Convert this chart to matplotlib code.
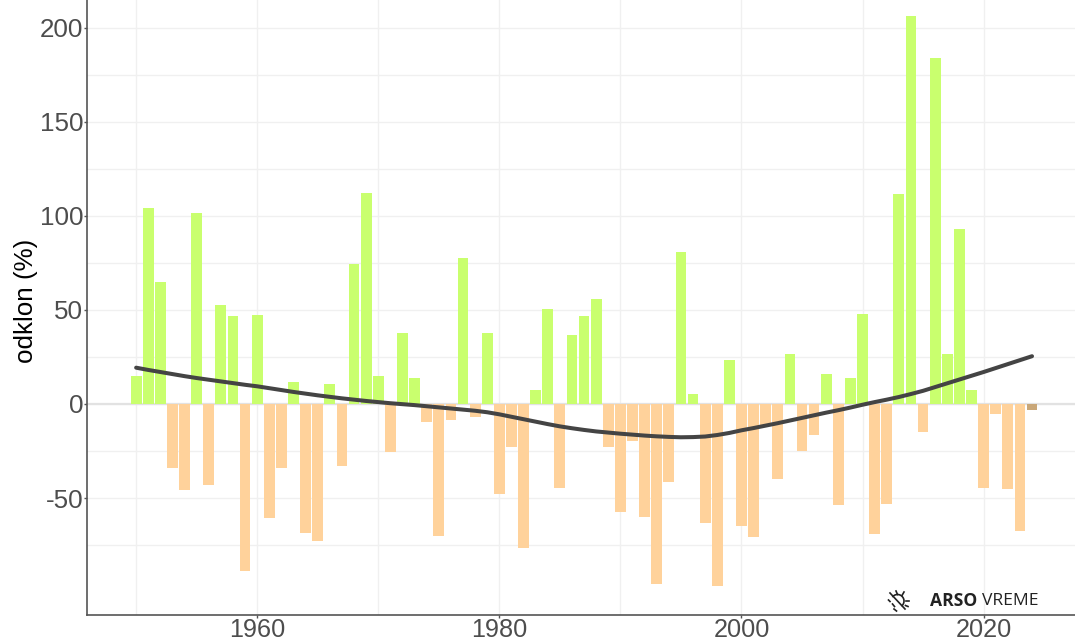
import numpy as np
import matplotlib
matplotlib.use("Agg")
import matplotlib.pyplot as plt
from matplotlib.lines import Line2D

plt.rcParams['font.family'] = ['Liberation Sans', 'DejaVu Sans']
plt.rcParams['axes.unicode_minus'] = False

years = list(range(1950, 2025))
odklon = [
    14.7, 104, 65, -34.2, -45.7, 101.5, -43, 52.5, 46.7, -89,
    47.5, -60.6, -33.9, 11.5, -68.6, -73, 10.5, -33, 74.5, 112,
    14.7, -25.5, 37.5, 13.8, -9.8, -70, -8.7, 77.5, -6.7, 38,
    -48, -23, -76.4, 7.3, 50.3, -44.7, 36.5, 46.6, 56, -22.9,
    -57.6, -19.7, -60.3, -95.6, -41.5, 80.7, 5.1, -63.3, -97, 23.4,
    -64.9, -70.7, -11.3, -39.7, 26.4, -25.2, -16.7, 15.8, -53.5, 13.8,
    48, -69, -53, 111.5, 206.4, -15, 184, 26.4, 93, 7.3,
    -44.7, -5.5, -45.4, -67.5, -3.2,
]
trend = [
    19.3, 18.1, 17.0, 15.9, 14.8, 13.8, 12.9, 12.0, 11.1, 10.2,
    9.4, 8.4, 7.4, 6.4, 5.5, 4.6, 3.8, 3.0, 2.3, 1.6,
    1.0, 0.4, -0.1, -0.6, -1.2, -1.8, -2.4, -3.0, -3.6, -4.4,
    -5.5, -6.8, -8.1, -9.4, -10.7, -11.9, -12.9, -13.8, -14.6, -15.2,
    -15.8, -16.3, -16.8, -17.2, -17.5, -17.7, -17.6, -17.3, -16.5, -15.4,
    -14.0, -12.8, -11.5, -10.2, -8.8, -7.4, -6.0, -4.6, -3.3, -1.9,
    -0.4, 1.0, 2.3, 3.7, 5.3, 7.0, 9.0, 11.0, 13.0, 15.0,
    17.0, 19.1, 21.2, 23.3, 25.4,
]
xtick_vals = [1960, 1980, 2000, 2020]
ytick_vals = [-50, 0, 50, 100, 150, 200]

GREEN, ORANGE, TAN = '#c9ff6e', '#ffd29b', '#c9a778'
colors = [GREEN if v > 0 else ORANGE for v in odklon]
colors[-1] = TAN

fig = plt.figure(figsize=(10.75, 6.41), dpi=100)
ax = fig.add_axes([86.5/1075, 1-615/641, 1-86.5/1075, 615/641])

ax.set_axisbelow(True)
grid_c = '#f0f0f0'
ax.set_xticks(np.arange(1950, 2030, 10), minor=True)
ax.set_yticks(np.arange(-75, 225, 25), minor=True)
ax.grid(True, which='minor', color=grid_c, lw=1.0)
ax.set_xticks(xtick_vals)
ax.set_yticks(ytick_vals)
ax.grid(True, which='major', color=grid_c, lw=1.0)

ax.axhline(0, color='#e2e2e2', lw=1.6, zorder=1)
ax.bar(years, odklon, width=0.89, color=colors, zorder=2)
ax.plot(years, trend, color='#444444', lw=2.9, zorder=3, solid_capstyle='round')

ax.set_xlim(1945.9, 2027.55)
ax.set_ylim(-112.2, 214.8)

for s in ('top', 'right'):
    ax.spines[s].set_visible(False)
for s in ('left', 'bottom'):
    ax.spines[s].set_color('#555555')
    ax.spines[s].set_linewidth(1.2)

ax.tick_params(which='minor', length=0)
ax.tick_params(which='major', length=2, width=1, color='#555555',
               labelsize=18.7, labelcolor='#4d4d4d', pad=0.5)
ax.tick_params(axis='x', which='major', pad=0.2, labelsize=18.2)
fig.text(26/1075, 1-301/641, 'odklon (%)', fontsize=18.7, color='black',
         rotation=90, ha='center', va='center')

# logo
LOGO = '#222222'
fig.text(930/1075, 1-601/641, 'ARSO', family='Open Sans', weight='bold', fontsize=12.6,
         color=LOGO, ha='left', va='center')
fig.text(982/1075, 1-601/641, 'VREME', family='Open Sans', fontsize=12.6,
         color=LOGO, ha='left', va='center')
W, H = fig.get_size_inches() * fig.dpi
def seg(xs, ys, lw=1.2):
    fig.add_artist(Line2D([x / W for x in xs], [1 - y / H for y in ys],
                          color=LOGO, lw=lw, transform=fig.transFigure))
seg([890, 905], [593, 609])                         # slash
t = np.deg2rad(np.linspace(-135, 45, 30))
seg(list(897.5 + 6.5*np.cos(t)), list(601 + 6.5*np.sin(t)))  # half sun
seg([896, 897.5], [591, 594.5])                     # rays
seg([904, 902], [592, 595.5])
seg([908.5, 905.5], [600.5, 600.5])
seg([908, 905.5], [606.5, 605.5])
seg([888.5, 890], [600, 601.5])                     # rain dashes
seg([892.5, 894.5], [604, 606.5])
seg([894, 896.5], [609, 611])

fig.savefig('out.png', dpi=100)
